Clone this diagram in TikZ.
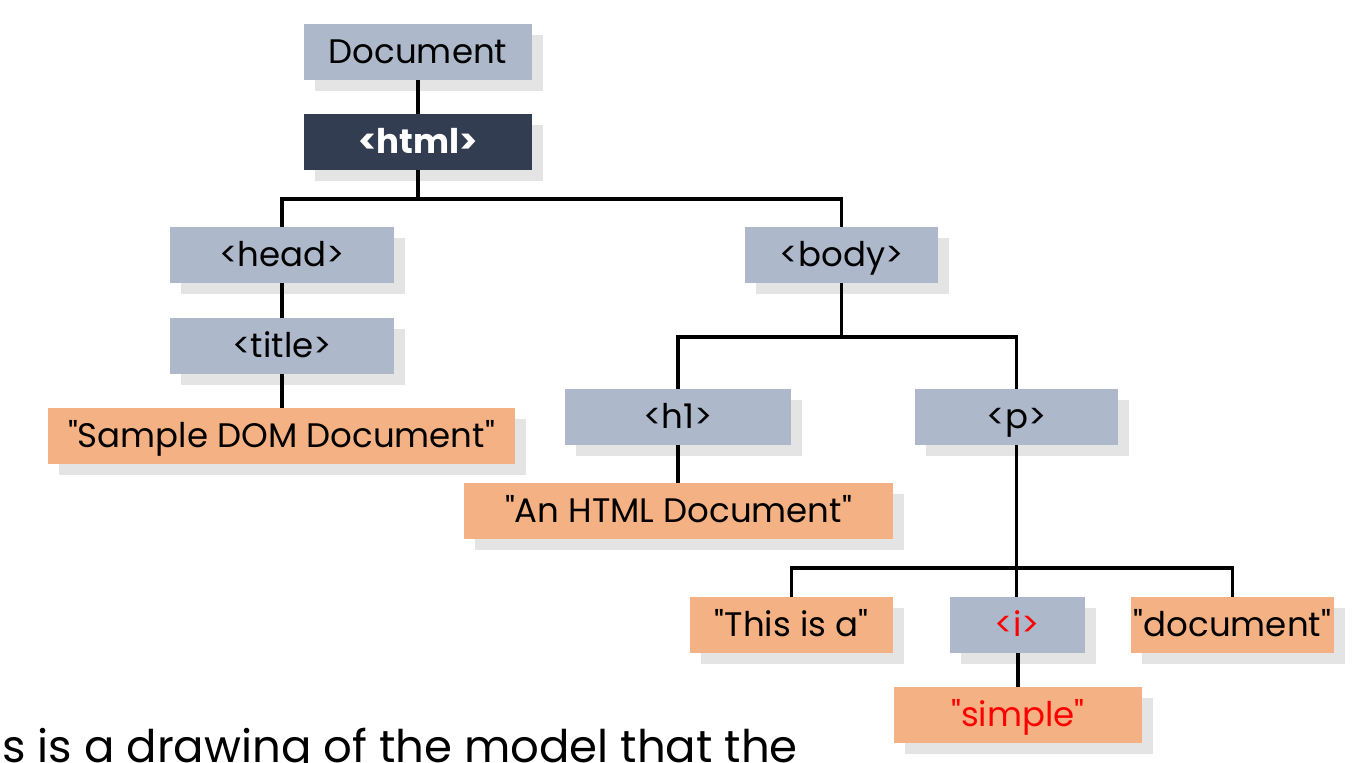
\documentclass[tikz,border=0pt]{standalone}
\usepackage{fontspec}
\setmainfont{Poppins}[Ligatures=TeXOff]
\usetikzlibrary{shadows}
\definecolor{tagblue}{HTML}{ADB8CA}
\definecolor{darkbox}{HTML}{333D51}
\definecolor{textorange}{HTML}{F4B183}
\definecolor{shadowgray}{HTML}{E4E4E4}
\tikzset{
  box/.style={minimum height=56pt, inner sep=0pt, text height=30pt, text depth=7pt,
    font=\fontsize{34}{38}\selectfont,
    drop shadow={shadow xshift=11pt, shadow yshift=-11pt, fill=shadowgray, opacity=1}},
  tagbox/.style={box, fill=tagblue},
  txtbox/.style={box, fill=textorange},
  link/.style={line width=3.6pt}
}
\begin{document}
\begin{tikzpicture}[x=1pt,y=-1pt]
\useasboundingbox (0,0) rectangle (1352,763);
\clip (0,0) rectangle (1352,763);
\fill[white] (0,0) rectangle (1352,763);
\node[tagbox, minimum width=228pt] (doc) at (418,52) {Document};
\node[box, fill=darkbox, text=white, minimum width=228pt, font=\fontsize{34}{38}\selectfont\bfseries] (html) at (418,142) {<html>};
\node[tagbox, minimum width=224pt] (head) at (282,255) {<head>};
\node[tagbox, minimum width=224pt] (title) at (282,346) {<title>};
\node[txtbox, minimum width=467pt] (sample) at (281.5,436) {"Sample DOM Document"};
\node[tagbox, minimum width=193pt] (body) at (841.5,255) {<body>};
\node[tagbox, minimum width=226pt] (h1) at (678,417) {<h1>};
\node[tagbox, minimum width=203pt] (p) at (1016.5,417) {<p>};
\node[txtbox, minimum width=429pt] (anhtml) at (678.5,511) {"An HTML Document"};
\node[txtbox, minimum width=203pt] (thisis) at (791.5,625) {"This is a"};
\node[tagbox, minimum width=135pt, text=red] (ital) at (1017.5,625) {<i>};
\node[txtbox, minimum width=203pt] (docword) at (1232.5,625) {"document"};
\node[txtbox, minimum width=248pt, text=red] (simple) at (1018,715) {"simple"};
\draw[link] (doc.south) -- (html.north);
\draw[link] (html.south) -- ++(0,29) coordinate (hj) -| (head.north);
\draw[link] (hj) -| (body.north);
\draw[link] (head.south) -- (title.north);
\draw[link] (title.south) -- (sample.north -| title.south);
\draw[link] (body.south) -- ++(0,54) coordinate (bj) -| (h1.north);
\draw[link] (bj) -| (p.north);
\draw[link] (h1.south) -- (anhtml.north -| h1.south);
\draw[link] (p.south) -- ++(0,123) coordinate (pj) -| (thisis.north);
\draw[link] (pj) -| (docword.north);
\draw[link] (pj) -- (ital.north -| pj);
\draw[link] (ital.south -| simple.north) -- (simple.north);
\node[anchor=base west, inner sep=0pt, font=\fontsize{45}{50}\selectfont] (caption) at (2,762) {s is a drawing of the model that the};
\end{tikzpicture}
\end{document}
